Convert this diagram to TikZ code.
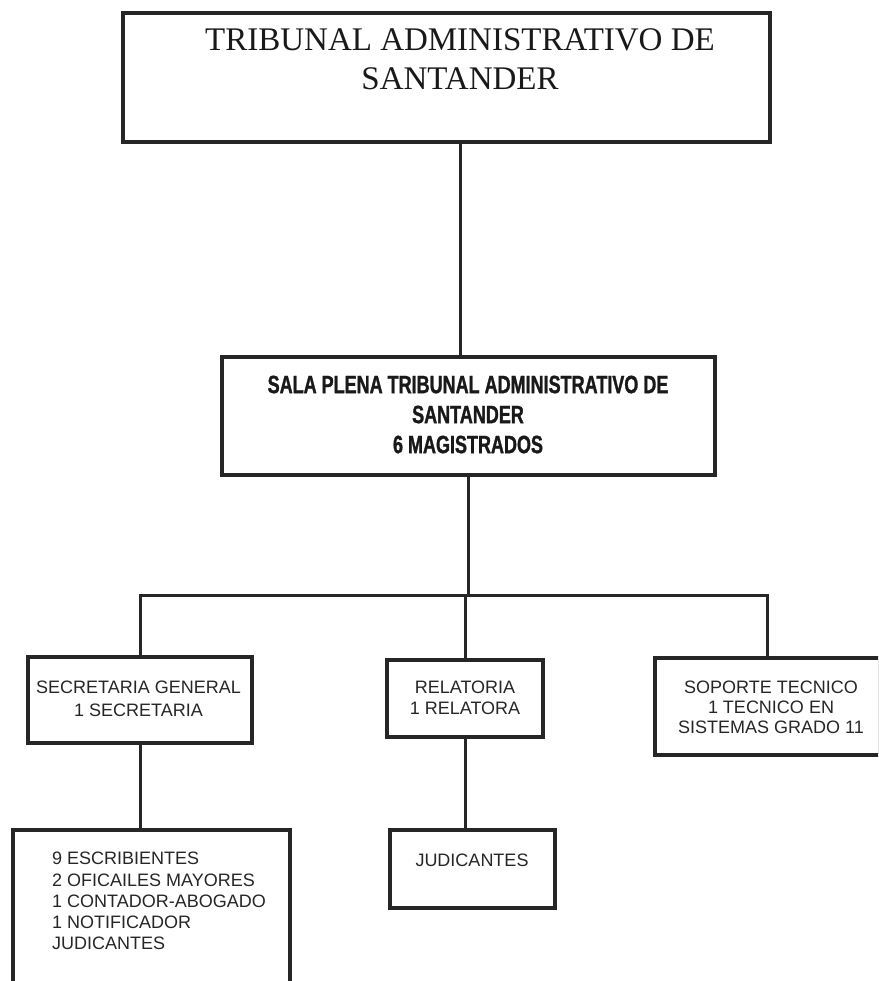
\documentclass[tikz,border=0pt]{standalone}
\usepackage{fontspec}
\setmainfont{Liberation Serif}
\newfontfamily\arialf{Liberation Sans}
\newfontfamily\condf[FakeStretch=0.72,FakeBold=1.2]{Liberation Sans Bold}
\begin{document}
\begin{tikzpicture}[x=1pt,y=-1pt,
  boxstyle/.style={draw=black!85, line width=3.5pt, rectangle, inner sep=0pt},
  conn/.style={draw=black!85, line width=3pt},
  small/.style={font=\arialf\fontsize{18}{21}\selectfont, align=center, inner sep=0pt, text=black!85},
  serift/.style={font=\fontsize{33}{39}\selectfont, align=center, inner sep=0pt, text=black!90},
  condt/.style={font=\condf\fontsize{25}{30}\selectfont, align=center, inner sep=0pt, text=black!90}]
\useasboundingbox (0,0) rectangle (878,981);
\clip (0,0) rectangle (878,981);

% boxes
\node[boxstyle, minimum width=647pt, minimum height=129pt] (top) at (446.5,77.5) {};
\node[serift] (toptxt) at (460,59.5) {TRIBUNAL ADMINISTRATIVO DE\\SANTANDER};

\node[boxstyle, minimum width=493pt, minimum height=118pt] (sala) at (468.5,416) {};
\node[condt] (salatxt) at (468,414.5) {SALA PLENA TRIBUNAL ADMINISTRATIVO DE\\SANTANDER\\6 MAGISTRADOS};

\node[boxstyle, minimum width=224pt, minimum height=86pt] (sec) at (140,700) {};
\node[small, font=\arialf\fontsize{18}{23}\selectfont] (sectxt) at (138.5,698.5) {SECRETARIA GENERAL\\1 SECRETARIA};

\node[boxstyle, minimum width=156pt, minimum height=77pt] (rel) at (465,698.5) {};
\node[small] (reltxt) at (465,697.5) {RELATORIA\\1 RELATORA};

\node[boxstyle, minimum width=225pt, minimum height=97pt] (sop) at (767.5,706.5) {};
\node[small, font=\arialf\fontsize{18}{20}\selectfont] (soptxt) at (771,707) {SOPORTE TECNICO\\1 TECNICO EN\\SISTEMAS GRADO 11};

\node[boxstyle, minimum width=277pt, minimum height=155pt] (esc) at (151.5,907.5) {};
\node[small, align=left, anchor=north west, font=\arialf\fontsize{18}{21.25}\selectfont] (esctxt) at (52,852) {9 ESCRIBIENTES\\2 OFICAILES MAYORES\\1 CONTADOR-ABOGADO\\1 NOTIFICADOR\\JUDICANTES};

\node[boxstyle, minimum width=165pt, minimum height=78pt] (jud) at (472.5,869) {};
\node[small] (judtxt) at (472,860) {JUDICANTES};

% connectors
\coordinate (bar) at (0,595);
\draw[conn] (top.south -| toptxt) -- (sala.north -| toptxt);
\draw[conn] (sala.south) -- (sala.south |- bar);
\draw[conn] (sec.north) -- (sec.north |- bar) -- (sop.north |- bar) -- (sop.north);
\draw[conn] (rel.north) -- (rel.north |- bar);
\draw[conn] (sec.south) -- (sec.south |- esc.north);
\draw[conn] (rel.south) -- (rel.south |- jud.north);
\end{tikzpicture}
\end{document}
